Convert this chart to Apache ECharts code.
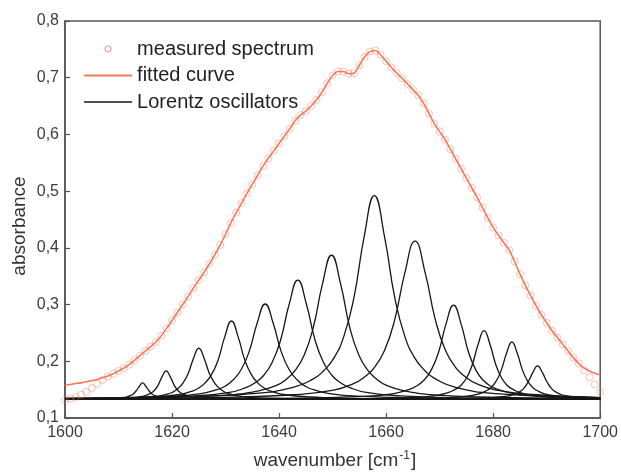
<!DOCTYPE html>
<html><head><meta charset="utf-8">
<script src="https://cdn.jsdelivr.net/npm/echarts@6/dist/echarts.min.js"></script>
<style>html,body{margin:0;padding:0;background:#fff}#c{width:621px;height:472px}</style>
</head><body><div id="c"></div>
<script>
// ---- data ----
const wavenumbers = [1600,1601,1602,1603,1604,1605,1606,1607,1608,1609,1610,1611,1612,1613,1614,1615,1616,1617,1618,1619,1620,1621,1622,1623,1624,1625,1626,1627,1628,1629,1630,1631,1632,1633,1634,1635,1636,1637,1638,1639,1640,1641,1642,1643,1644,1645,1646,1647,1648,1649,1650,1651,1652,1653,1654,1655,1656,1657,1658,1659,1660,1661,1662,1663,1664,1665,1666,1667,1668,1669,1670,1671,1672,1673,1674,1675,1676,1677,1678,1679,1680,1681,1682,1683,1684,1685,1686,1687,1688,1689,1690,1691,1692,1693,1694,1695,1696,1697,1698,1699,1700];
const measured = [0.132,0.134,0.137,0.141,0.146,0.153,0.160,0.167,0.173,0.178,0.183,0.188,0.194,0.202,0.210,0.218,0.226,0.234,0.245,0.258,0.272,0.286,0.300,0.314,0.329,0.343,0.357,0.372,0.388,0.405,0.424,0.444,0.462,0.479,0.496,0.512,0.528,0.544,0.558,0.571,0.584,0.597,0.610,0.624,0.634,0.641,0.650,0.661,0.674,0.690,0.704,0.711,0.711,0.707,0.708,0.722,0.737,0.746,0.748,0.740,0.729,0.718,0.708,0.699,0.689,0.679,0.669,0.655,0.637,0.619,0.605,0.591,0.574,0.557,0.540,0.523,0.506,0.489,0.471,0.453,0.436,0.422,0.409,0.396,0.376,0.354,0.334,0.316,0.298,0.282,0.268,0.254,0.242,0.230,0.218,0.206,0.196,0.184,0.172,0.159,0.146];
const fitted = [0.158,0.159,0.161,0.162,0.164,0.166,0.168,0.171,0.174,0.178,0.183,0.188,0.194,0.202,0.210,0.218,0.226,0.234,0.245,0.258,0.272,0.286,0.300,0.314,0.329,0.343,0.357,0.372,0.388,0.405,0.424,0.444,0.462,0.479,0.496,0.512,0.528,0.544,0.558,0.571,0.584,0.597,0.610,0.624,0.634,0.641,0.650,0.661,0.674,0.690,0.704,0.711,0.711,0.707,0.708,0.722,0.737,0.746,0.748,0.740,0.729,0.718,0.708,0.699,0.689,0.679,0.669,0.655,0.637,0.619,0.605,0.591,0.574,0.557,0.540,0.523,0.506,0.489,0.471,0.453,0.436,0.422,0.409,0.396,0.376,0.354,0.334,0.316,0.298,0.282,0.268,0.254,0.242,0.230,0.218,0.206,0.196,0.188,0.183,0.179,0.176];

// Lorentz oscillators: points [wavenumber, absorbance]
const osc1  = [[1600,.133],[1602.5,.133],[1607.3,.134],[1609.7,.135],[1610.9,.136],[1611.5,.137],[1612.1,.139],[1612.7,.142],[1613.3,.148],[1613.9,.156],[1614.5,.162],[1615.1,.156],[1615.7,.148],[1616.3,.142],[1616.9,.139],[1617.5,.137],[1618.1,.136],[1619.3,.135],[1621.7,.134],[1626.5,.133],[1700,.133]];
const osc2  = [[1600,.133],[1603.9,.134],[1609.9,.134],[1612.9,.136],[1614.4,.138],[1615.15,.140],[1615.9,.143],[1616.65,.148],[1617.4,.158],[1618.15,.173],[1618.9,.183],[1619.65,.173],[1620.4,.158],[1621.15,.148],[1621.9,.143],[1622.65,.140],[1623.4,.138],[1624.9,.136],[1627.9,.134],[1633.9,.134],[1700,.133]];
const osc3  = [[1600,.134],[1605,.134],[1613,.135],[1617,.138],[1619,.142],[1620,.145],[1621,.151],[1622,.161],[1623,.178],[1624,.205],[1625,.223],[1626,.205],[1627,.178],[1628,.161],[1629,.151],[1630,.145],[1631,.142],[1633,.138],[1637,.135],[1645,.134],[1700,.133]];
const osc4  = [[1600,.134],[1606.1,.134],[1616.1,.137],[1621.1,.141],[1623.6,.147],[1624.85,.152],[1626.1,.161],[1627.35,.176],[1628.6,.202],[1629.85,.243],[1631.1,.271],[1632.35,.243],[1633.6,.202],[1634.85,.176],[1636.1,.161],[1637.35,.152],[1638.6,.147],[1641.1,.141],[1646.1,.137],[1656.1,.134],[1700,.133]];
const osc5  = [[1600,.134],[1607.4,.135],[1619.4,.138],[1625.4,.143],[1628.4,.150],[1629.9,.156],[1631.4,.167],[1632.9,.185],[1634.4,.217],[1635.9,.267],[1637.4,.301],[1638.9,.267],[1640.4,.217],[1641.9,.185],[1643.4,.167],[1644.9,.156],[1646.4,.150],[1649.4,.143],[1655.4,.138],[1667.4,.135],[1700,.133]];
const osc6  = [[1600,.134],[1611.5,.135],[1624.3,.139],[1630.7,.145],[1633.9,.154],[1635.5,.162],[1637.1,.175],[1638.7,.198],[1640.3,.238],[1641.9,.301],[1643.5,.343],[1645.1,.301],[1646.7,.238],[1648.3,.198],[1649.9,.175],[1651.5,.162],[1653.1,.154],[1656.3,.145],[1662.7,.139],[1675.5,.135],[1700,.134]];
const osc7  = [[1600,.134],[1615.8,.136],[1629.4,.140],[1636.2,.148],[1639.6,.158],[1641.3,.168],[1643.0,.184],[1644.7,.211],[1646.4,.260],[1648.1,.336],[1649.8,.387],[1651.5,.336],[1653.2,.260],[1654.9,.211],[1656.6,.184],[1658.3,.168],[1660.0,.158],[1663.4,.148],[1670.2,.140],[1683.8,.136],[1700,.134]];
const osc8  = [[1600,.135],[1619.8,.137],[1635.0,.143],[1642.6,.154],[1646.4,.169],[1648.3,.183],[1650.2,.205],[1652.1,.244],[1654.0,.313],[1655.9,.420],[1657.8,.492],[1659.7,.420],[1661.6,.313],[1663.5,.244],[1665.4,.205],[1667.3,.183],[1669.2,.169],[1673.0,.154],[1680.6,.143],[1695.8,.137],[1700,.136]];
const osc9  = [[1600,.134],[1627.4,.136],[1642.6,.141],[1650.2,.149],[1654.0,.161],[1655.9,.172],[1657.8,.189],[1659.7,.219],[1661.6,.273],[1663.5,.356],[1665.4,.412],[1667.3,.356],[1669.2,.273],[1671.1,.219],[1673.0,.189],[1674.9,.172],[1676.8,.161],[1680.6,.149],[1688.2,.141],[1700,.136]];
const osc10 = [[1600,.133],[1644.6,.135],[1655.8,.138],[1661.4,.143],[1664.2,.150],[1665.6,.156],[1667.0,.166],[1668.4,.184],[1669.8,.216],[1671.2,.266],[1672.6,.299],[1674.0,.266],[1675.4,.216],[1676.8,.184],[1678.2,.166],[1679.6,.156],[1681.0,.150],[1683.8,.143],[1689.4,.138],[1700,.135]];
const osc11 = [[1600,.133],[1656.3,.134],[1665.1,.136],[1669.5,.140],[1671.7,.145],[1672.8,.150],[1673.9,.157],[1675.0,.170],[1676.1,.194],[1677.2,.230],[1678.3,.254],[1679.4,.230],[1680.5,.194],[1681.6,.170],[1682.7,.157],[1683.8,.150],[1684.9,.145],[1687.1,.140],[1691.5,.136],[1700,.134]];
const osc12 = [[1600,.133],[1663.5,.134],[1671.5,.136],[1675.5,.139],[1677.5,.143],[1678.5,.147],[1679.5,.153],[1680.5,.164],[1681.5,.184],[1682.5,.214],[1683.5,.234],[1684.5,.214],[1685.5,.184],[1686.5,.164],[1687.5,.153],[1688.5,.147],[1689.5,.143],[1691.5,.139],[1695.5,.136],[1700,.135]];
const osc13 = [[1600,.133],[1670.3,.134],[1677.5,.135],[1681.1,.137],[1682.9,.139],[1683.8,.141],[1684.7,.145],[1685.6,.151],[1686.5,.163],[1687.4,.180],[1688.3,.192],[1689.2,.180],[1690.1,.163],[1691.0,.151],[1691.9,.145],[1692.8,.141],[1693.7,.139],[1695.5,.137],[1699.1,.135],[1700,.134]];
const oscillators = [osc1,osc2,osc3,osc4,osc5,osc6,osc7,osc8,osc9,osc10,osc11,osc12,osc13];

const xTickLabels = ['1600','1620','1640','1660','1680','1700'];
const yTickLabels = ['0,1','0,2','0,3','0,4','0,5','0,6','0,7','0,8'];
const legendNames = ['measured spectrum','fitted curve','Lorentz oscillators'];

// ---- chart ----
const chart = echarts.init(document.getElementById('c'), null, {renderer:'canvas'});
const FONT = '"Liberation Sans", Arial, sans-serif';
const axisCol = '#555';
const labelCol = '#3c3c3c';

const series = [];
oscillators.forEach(function(o){
  series.push({
    name: legendNames[2], type:'line', data:o, symbol:'none', showSymbol:false,
    smooth:0.5,
    lineStyle:{color:'#161616', width:1.3}, itemStyle:{color:'#161616'},
    z:2, animation:false, silent:true
  });
});
series.push({
  name: legendNames[0], type:'scatter',
  data: wavenumbers.map(function(x,i){return [x, measured[i]];}),
  symbol:'circle', symbolSize:7,
  itemStyle:{color:'rgba(255,255,255,0)', borderColor:'rgba(241,105,75,0.5)', borderWidth:1},
  z:3, animation:false, silent:true
});
series.push({
  name: legendNames[1], type:'line',
  data: wavenumbers.map(function(x,i){return [x, fitted[i]];}),
  symbol:'none', showSymbol:false, smooth:0.3,
  lineStyle:{color:'#f47a5c', width:1.6}, itemStyle:{color:'#f47a5c'},
  z:4, animation:false, silent:true
});

chart.setOption({
  animation:false,
  backgroundColor:'#fff',
  grid:{left:65, right:16, top:21, bottom:54, show:true, borderColor:axisCol, borderWidth:1.5, backgroundColor:'rgba(0,0,0,0)'},
  legend:{
    data:[
      {name:legendNames[0], icon:'circle', itemStyle:{color:'rgba(255,255,255,0)', borderColor:'rgba(241,105,75,0.8)', borderWidth:1.2}},
      {name:legendNames[1], itemStyle:{opacity:0}, lineStyle:{color:'#f47a5c', width:2.2}},
      {name:legendNames[2], itemStyle:{opacity:0}, lineStyle:{color:'#161616', width:1.5}}
    ],
    orient:'vertical', left:83, top:39, padding:0, itemWidth:48, itemHeight:6, itemGap:6.5,
    textStyle:{fontFamily:FONT, fontSize:20, color:'#222', lineHeight:20},
    selectedMode:false
  },
  xAxis:{
    type:'value', min:1600, max:1700, interval:20,
    axisLine:{show:true, lineStyle:{color:axisCol, width:1.5}},
    axisTick:{show:true, inside:true, length:5, lineStyle:{color:axisCol, width:1.2}},
    splitLine:{show:false},
    axisLabel:{fontFamily:FONT, fontSize:16, color:labelCol, margin:7,
      formatter:function(v){return xTickLabels[Math.round((v-1600)/20)];}}
  },
  yAxis:{
    type:'value', min:0.1, max:0.8, interval:0.1,
    axisLine:{show:true, lineStyle:{color:axisCol, width:1.5}},
    axisTick:{show:true, inside:true, length:5, lineStyle:{color:axisCol, width:1.2}},
    splitLine:{show:false},
    axisLabel:{fontFamily:FONT, fontSize:16, color:labelCol, margin:6,
      formatter:function(v){return yTickLabels[Math.round((v-0.1)*10)];}}
  },
  graphic:[
    {type:'text', x:335, y:461, style:{
      text:'{a|wavenumber [cm}{b|-1}{a|]}', align:'center', verticalAlign:'middle',
      rich:{a:{fontFamily:FONT, fontSize:19, fill:'#333'}, b:{fontFamily:FONT, fontSize:12, fill:'#333', verticalAlign:'top', padding:[0,1,10,1]}}
    }},
    {type:'text', x:20, y:226, rotation:Math.PI/2, style:{
      text:'absorbance', align:'center', verticalAlign:'middle',
      fontFamily:FONT, fontSize:19, fill:'#333'
    }}
  ],
  series:series
});
</script></body></html>
